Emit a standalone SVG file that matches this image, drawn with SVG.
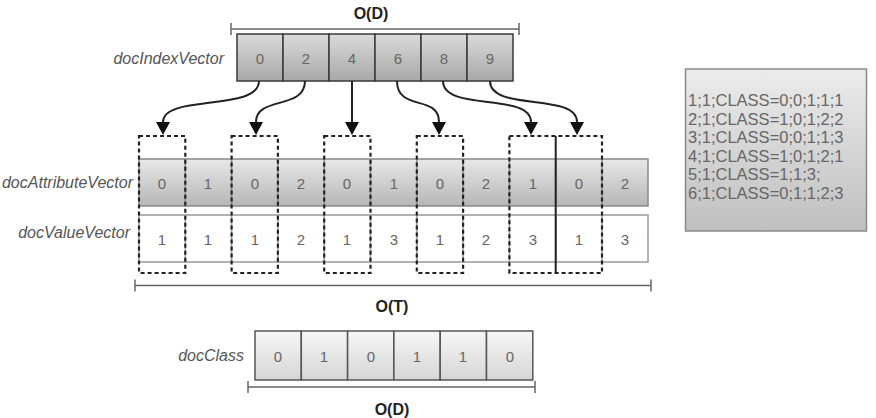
<svg xmlns="http://www.w3.org/2000/svg" width="876" height="418" viewBox="0 0 876 418">
<style>
.lbl{font-family:"Liberation Sans",Arial,sans-serif;font-style:italic;font-size:16px;fill:#555;text-anchor:end;dominant-baseline:central}
.num{font-family:"Liberation Sans",Arial,sans-serif;font-size:15px;fill:#666;text-anchor:middle;dominant-baseline:central}
.big{font-family:"Liberation Sans",Arial,sans-serif;font-weight:bold;font-size:16px;fill:#222;text-anchor:middle;dominant-baseline:central}
.box{font-family:"Liberation Sans",Arial,sans-serif;font-size:16.5px;fill:#666}
.idx{fill:url(#gIdx);stroke:#3a3a3a;stroke-width:1.5}
.att{fill:url(#gAtt);stroke:#888;stroke-width:1.5}
.val{fill:#fff;stroke:#999;stroke-width:1.5}
.cls{fill:url(#gCls);stroke:#555;stroke-width:1.5}
.dash{fill:none;stroke:#222;stroke-width:2.2;stroke-dasharray:4 3}
.dim{stroke:#666;stroke-width:1.5;fill:none}
.arr{fill:none;stroke:#222;stroke-width:2;marker-end:url(#ah)}
</style>
<defs>
<linearGradient id="gIdx" x1="0" y1="0" x2="0" y2="1"><stop offset="0" stop-color="#dadada"/><stop offset="1" stop-color="#a8a8a8"/></linearGradient>
<linearGradient id="gAtt" x1="0" y1="0" x2="0" y2="1"><stop offset="0" stop-color="#e8e8e8"/><stop offset="1" stop-color="#b6b6b6"/></linearGradient>
<linearGradient id="gCls" x1="0" y1="0" x2="0" y2="1"><stop offset="0" stop-color="#f6f6f6"/><stop offset="1" stop-color="#d6d6d6"/></linearGradient>
<linearGradient id="gBox" x1="0" y1="0" x2="0" y2="1"><stop offset="0" stop-color="#ececec"/><stop offset="1" stop-color="#bfbfbf"/></linearGradient>
<marker id="ah" markerUnits="userSpaceOnUse" markerWidth="14" markerHeight="14" refX="0" refY="7" orient="auto" viewBox="0 0 14 14"><path d="M0,0 L13,7 L0,14 Z" fill="#111"/></marker>
</defs>

<g id="dim-top">
<line class="dim" x1="231" y1="29" x2="519" y2="29"/>
<line class="dim" x1="231" y1="23" x2="231" y2="35"/>
<line class="dim" x1="519" y1="23" x2="519" y2="35"/>
<text class="big" x="371" y="13">O(D)</text>
</g>

<g id="docIndexVector">
<text class="lbl" x="224" y="58">docIndexVector</text>
<rect class="idx" x="237" y="34" width="46" height="47"/>
<rect class="idx" x="283" y="34" width="46" height="47"/>
<rect class="idx" x="329" y="34" width="46" height="47"/>
<rect class="idx" x="375" y="34" width="46" height="47"/>
<rect class="idx" x="421" y="34" width="46" height="47"/>
<rect class="idx" x="467" y="34" width="46" height="47"/>
<text class="num" x="260" y="58">0</text>
<text class="num" x="306" y="58">2</text>
<text class="num" x="352" y="58">4</text>
<text class="num" x="398" y="58">6</text>
<text class="num" x="444" y="58">8</text>
<text class="num" x="490" y="58">9</text>
</g>

<g id="docAttributeVector">
<text class="lbl" x="133" y="182">docAttributeVector</text>
<rect class="att" x="139" y="159" width="509" height="47"/>
<g stroke="#888" stroke-width="1.5">
<line x1="185.3" y1="159" x2="185.3" y2="206"/><line x1="231.6" y1="159" x2="231.6" y2="206"/><line x1="277.9" y1="159" x2="277.9" y2="206"/><line x1="324.2" y1="159" x2="324.2" y2="206"/><line x1="370.5" y1="159" x2="370.5" y2="206"/><line x1="416.8" y1="159" x2="416.8" y2="206"/><line x1="463.1" y1="159" x2="463.1" y2="206"/><line x1="509.4" y1="159" x2="509.4" y2="206"/><line x1="555.7" y1="159" x2="555.7" y2="206"/><line x1="602" y1="159" x2="602" y2="206"/>
</g>
<text class="num" x="162" y="183">0</text><text class="num" x="208" y="183">1</text><text class="num" x="255" y="183">0</text><text class="num" x="301" y="183">2</text><text class="num" x="347" y="183">0</text><text class="num" x="394" y="183">1</text><text class="num" x="440" y="183">0</text><text class="num" x="486" y="183">2</text><text class="num" x="533" y="183">1</text><text class="num" x="579" y="183">0</text><text class="num" x="625" y="183">2</text>
</g>

<g id="docValueVector">
<text class="lbl" x="130" y="232">docValueVector</text>
<rect class="val" x="139" y="215" width="509" height="47"/>
<g stroke="#999" stroke-width="1.5">
<line x1="185.3" y1="215" x2="185.3" y2="262"/><line x1="231.6" y1="215" x2="231.6" y2="262"/><line x1="277.9" y1="215" x2="277.9" y2="262"/><line x1="324.2" y1="215" x2="324.2" y2="262"/><line x1="370.5" y1="215" x2="370.5" y2="262"/><line x1="416.8" y1="215" x2="416.8" y2="262"/><line x1="463.1" y1="215" x2="463.1" y2="262"/><line x1="509.4" y1="215" x2="509.4" y2="262"/><line x1="555.7" y1="215" x2="555.7" y2="262"/><line x1="602" y1="215" x2="602" y2="262"/>
</g>
<text class="num" x="162" y="239">1</text><text class="num" x="208" y="239">1</text><text class="num" x="255" y="239">1</text><text class="num" x="301" y="239">2</text><text class="num" x="347" y="239">1</text><text class="num" x="394" y="239">3</text><text class="num" x="440" y="239">1</text><text class="num" x="486" y="239">2</text><text class="num" x="533" y="239">3</text><text class="num" x="579" y="239">1</text><text class="num" x="625" y="239">3</text>
</g>

<g id="selections">
<rect class="dash" x="139" y="136" width="46.3" height="137"/>
<rect class="dash" x="231.6" y="136" width="46.3" height="137"/>
<rect class="dash" x="324.2" y="136" width="46.3" height="137"/>
<rect class="dash" x="416.8" y="136" width="46.3" height="137"/>
<rect class="dash" x="509.4" y="136" width="92.6" height="137"/>
<line x1="555.7" y1="136" x2="555.7" y2="273" stroke="#222" stroke-width="2"/>
</g>

<g id="connectors">
<path class="arr" d="M259,81 C259,112 163,94 163,122"/>
<path class="arr" d="M305,81 C305,110 256,96 256,122"/>
<path class="arr" d="M352,81 L352,122"/>
<path class="arr" d="M397,81 C397,112 439,94 439,122"/>
<path class="arr" d="M443,81 C443,112 531,92 531,122"/>
<path class="arr" d="M490,81 C490,112 577,92 577,122"/>
</g>

<g id="dim-mid">
<line class="dim" x1="135" y1="285.5" x2="651" y2="285.5"/>
<line class="dim" x1="135" y1="279.5" x2="135" y2="291.5"/>
<line class="dim" x1="651" y1="279.5" x2="651" y2="291.5"/>
<text class="big" x="392" y="306">O(T)</text>
</g>

<g id="docClass">
<text class="lbl" x="244" y="355">docClass</text>
<rect class="cls" x="255" y="331" width="46.3" height="49"/>
<rect class="cls" x="301.3" y="331" width="46.3" height="49"/>
<rect class="cls" x="347.6" y="331" width="46.3" height="49"/>
<rect class="cls" x="393.9" y="331" width="46.3" height="49"/>
<rect class="cls" x="440.2" y="331" width="46.3" height="49"/>
<rect class="cls" x="486.5" y="331" width="46.3" height="49"/>
<text class="num" x="278" y="356">0</text><text class="num" x="324" y="356">1</text><text class="num" x="371" y="356">0</text><text class="num" x="417" y="356">1</text><text class="num" x="463" y="356">1</text><text class="num" x="510" y="356">0</text>
</g>

<g id="dim-bottom">
<line class="dim" x1="248" y1="387" x2="535" y2="387"/>
<line class="dim" x1="248" y1="381" x2="248" y2="393"/>
<line class="dim" x1="535" y1="381" x2="535" y2="393"/>
<text class="big" x="392" y="409">O(D)</text>
</g>

<g id="dataBox">
<rect x="685.5" y="69" width="181" height="162" fill="url(#gBox)" stroke="#888" stroke-width="1.5"/>
<text class="box" x="688" y="106">1;1;CLASS=0;0;1;1;1</text>
<text class="box" x="688" y="124.5">2;1;CLASS=1;0;1;2;2</text>
<text class="box" x="688" y="143">3;1;CLASS=0;0;1;1;3</text>
<text class="box" x="688" y="161.5">4;1;CLASS=1;0;1;2;1</text>
<text class="box" x="688" y="180">5;1;CLASS=1;1;3;</text>
<text class="box" x="688" y="198.5">6;1;CLASS=0;1;1;2;3</text>
</g>
</svg>
